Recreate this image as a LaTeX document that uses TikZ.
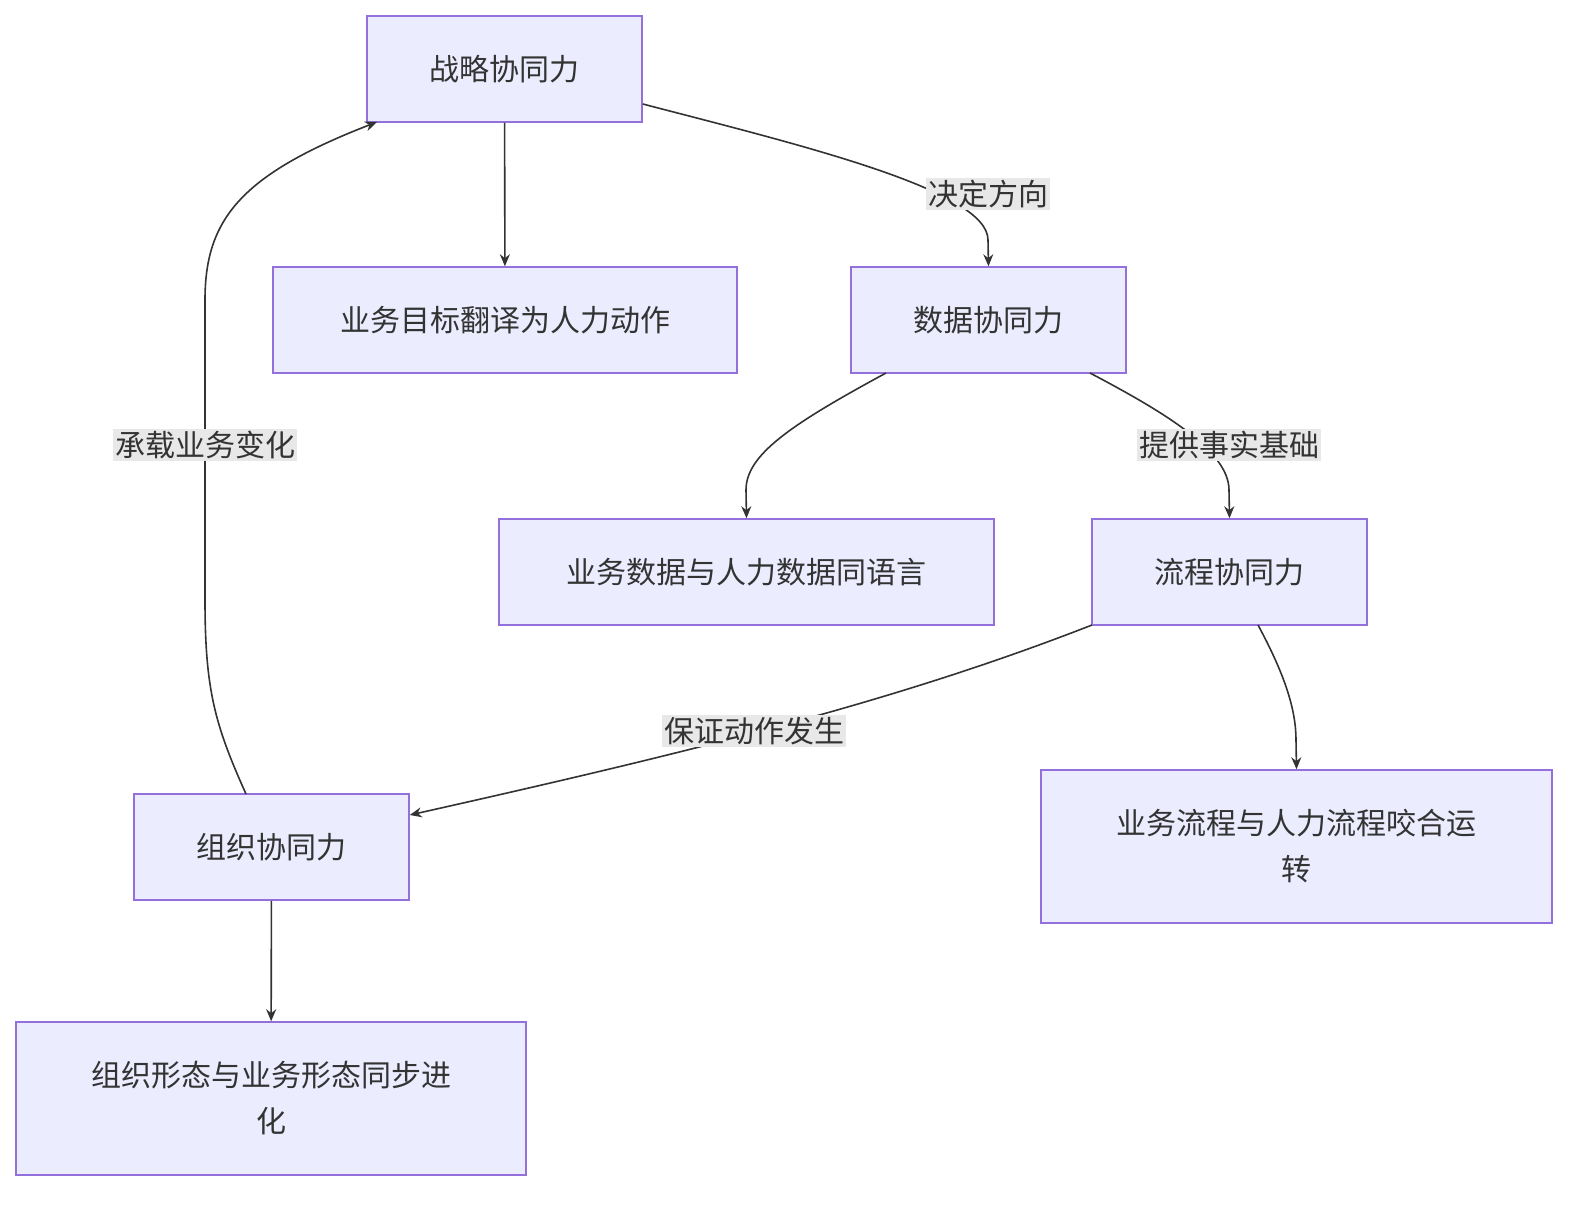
\documentclass[tikz,border=0pt]{standalone}
\usepackage{fontspec}
\setmainfont{Noto Sans CJK SC}
\usetikzlibrary{arrows.meta}
\definecolor{boxfill}{HTML}{ECECFF}
\definecolor{boxline}{HTML}{9370DB}
\definecolor{edge}{HTML}{333333}
\definecolor{lblbg}{HTML}{E8E8E8}
\begin{document}
\begin{tikzpicture}[x=1pt,y=-1pt,
  box/.style={draw=boxline,fill=boxfill,line width=1.5pt,inner sep=0pt,font=\fontsize{30}{46}\selectfont,text=edge,align=center},
  lbl/.style={fill=lblbg,inner sep=2pt,font=\fontsize{30}{36}\selectfont,text=edge},
  conn/.style={draw=edge,line width=1.6pt,-{Stealth[length=12pt,width=10pt]}},
  seg/.style={draw=edge,line width=1.6pt}]
\useasboundingbox (0,0) rectangle (1596,1212);
\node[box,minimum width=275pt,minimum height=106pt] (A) at (504.5,69) {战略协同力};
\node[box,minimum width=464pt,minimum height=106pt] (B) at (505,320) {业务目标翻译为人力动作};
\node[box,minimum width=275pt,minimum height=106pt] (C) at (988.5,320) {数据协同力};
\node[box,minimum width=495pt,minimum height=106pt] (D) at (746.5,572) {业务数据与人力数据同语言};
\node[box,minimum width=275pt,minimum height=106pt] (E) at (1229.5,572) {流程协同力};
\node[box,minimum width=275pt,minimum height=106pt] (F) at (271.5,847) {组织协同力};
\node[box,minimum width=511pt,minimum height=153pt] (G) at (1296.5,846.5) {业务流程与人力流程咬合运\\转};
\node[box,minimum width=510pt,minimum height=153pt] (H) at (271,1098.5) {组织形态与业务形态同步进\\化};

\draw[conn] (A) -- (B);
\draw[conn] (F) -- (H);
\draw[conn] (A.south east |- 0,104) .. controls (800,145) and (988,190) .. (988,240) -- (C.north);
\node[lbl] (L1) at (988,194) {决定方向};
\draw[conn] (886,373) .. controls (790,425) and (746,455) .. (746,490) -- (D.north);
\draw[conn] (1090,373) .. controls (1160,410) and (1229,450) .. (1229,490) -- (E.north);
\node[lbl] (L2) at (1229,445) {提供事实基础};
\draw[conn] (1092,625) .. controls (900,700) and (700,750) .. (F.east |- 0,815);
\node[lbl] (L3) at (754,731) {保证动作发生};
\draw[conn] (1258,625) .. controls (1285,675) and (1296,710) .. (1296,740) -- (G.north);
\draw[conn] (246,794) .. controls (215,725) and (205,690) .. (205,600) -- (205,300) .. controls (205,220) and (240,175) .. (377,122);
\node[lbl] (L4) at (205,445) {承载业务变化};
\end{tikzpicture}
\end{document}
